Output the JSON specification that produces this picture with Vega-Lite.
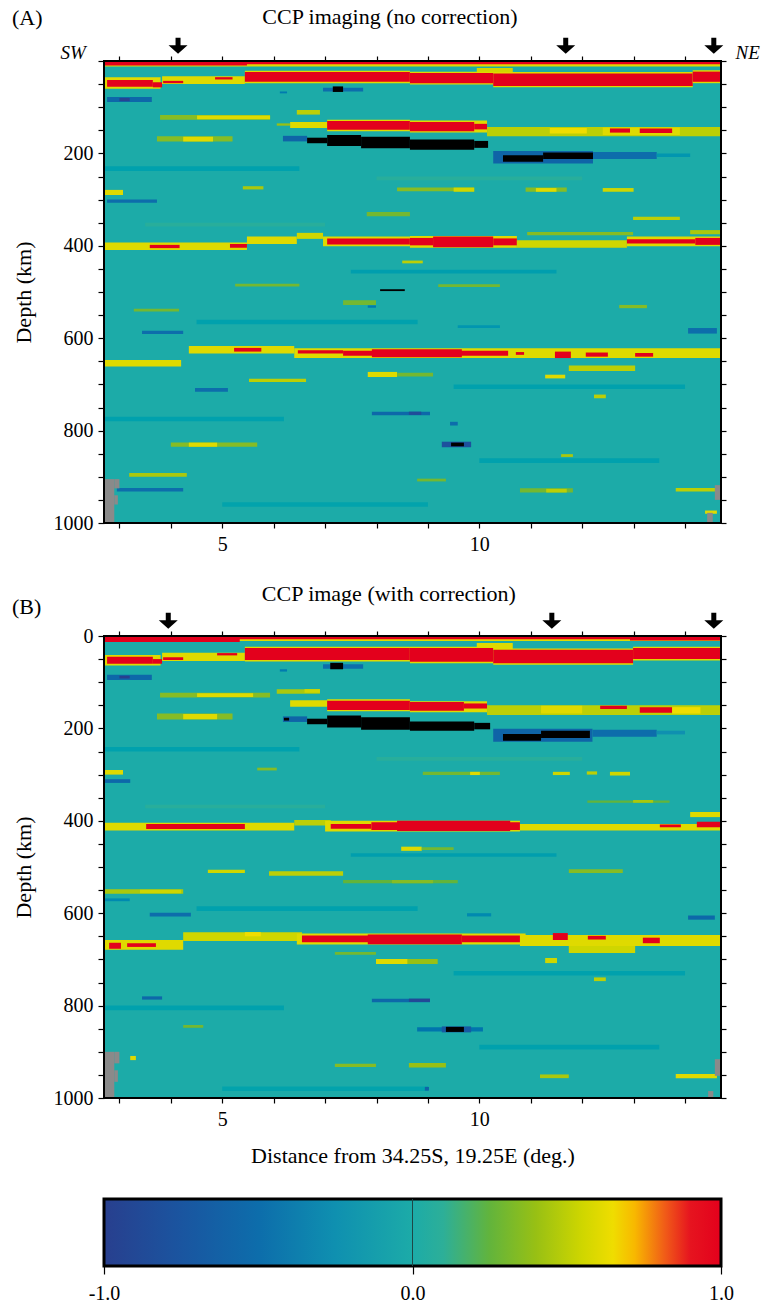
{
"$schema": "https://vega.github.io/schema/vega-lite/v6.json",
"padding": {"left": 11, "top": 6, "right": 2, "bottom": 2},
"background": "white",
"config": {
  "font": "Liberation Serif",
  "view": {"stroke": null},
  "axis": {"labelFont": "Liberation Serif", "titleFont": "Liberation Serif", "labelFontSize": 20, "titleFontSize": 22, "labelColor": "black", "titleColor": "black", "tickColor": "black", "tickWidth": 1.2, "titleFontWeight": "normal", "grid": false, "domain": false, "labelFlush": false, "labelOverlap": false},
  "text": {"font": "Liberation Serif", "color": "black"}
},
"datasets": {
"A": [
{"x":2.7,"x2":14.7,"d":0,"d2":1000,"v":0},
{"x":2.7,"x2":6.5,"d":228,"d2":238,"v":-0.1},
{"x":7.5,"x2":11.5,"d":452,"d2":460,"v":-0.12},
{"x":4.5,"x2":8.8,"d":560,"d2":570,"v":-0.1},
{"x":9.5,"x2":14.0,"d":700,"d2":710,"v":-0.1},
{"x":2.7,"x2":6.2,"d":770,"d2":780,"v":-0.1},
{"x":10.0,"x2":13.5,"d":860,"d2":870,"v":-0.1},
{"x":5.0,"x2":9.0,"d":955,"d2":965,"v":-0.08},
{"x":8.0,"x2":12.0,"d":250,"d2":258,"v":0.08},
{"x":3.5,"x2":7.0,"d":350,"d2":358,"v":0.08},
{"x":2.7,"x2":14.7,"d":0,"d2":12,"v":0.6},
{"x":2.7,"x2":14.7,"d":0,"d2":7,"v":1},
{"x":2.7,"x2":5.48,"d":0,"d2":10,"v":1},
{"x":9.95,"x2":10.65,"d":15,"d2":26,"v":0.55},
{"x":2.7,"x2":3.8,"d":35,"d2":60,"v":0.6},
{"x":2.76,"x2":3.65,"d":41,"d2":56,"v":1},
{"x":3.65,"x2":3.83,"d":46,"d2":57,"v":1},
{"x":3.83,"x2":5.44,"d":33,"d2":50,"v":0.6},
{"x":3.85,"x2":4.24,"d":43,"d2":48,"v":1},
{"x":4.86,"x2":5.2,"d":35,"d2":40,"v":1},
{"x":5.44,"x2":8.65,"d":21,"d2":48,"v":0.6},
{"x":5.44,"x2":8.65,"d":24,"d2":45,"v":1},
{"x":8.65,"x2":10.27,"d":23,"d2":51,"v":0.6},
{"x":8.65,"x2":10.27,"d":26,"d2":48,"v":1},
{"x":10.27,"x2":14.15,"d":24,"d2":57,"v":0.6},
{"x":10.27,"x2":14.15,"d":27,"d2":54,"v":1},
{"x":14.15,"x2":14.7,"d":20,"d2":48,"v":0.6},
{"x":14.15,"x2":14.7,"d":23,"d2":45,"v":1},
{"x":2.76,"x2":3.63,"d":78,"d2":89,"v":-0.55},
{"x":3.0,"x2":3.2,"d":80,"d2":87,"v":-0.95},
{"x":6.96,"x2":7.74,"d":58,"d2":66,"v":-0.5},
{"x":7.15,"x2":7.35,"d":55,"d2":67,"v":-1.3},
{"x":6.12,"x2":6.26,"d":66,"d2":70,"v":-0.4},
{"x":3.79,"x2":5.93,"d":117,"d2":127,"v":0.35},
{"x":4.51,"x2":5.93,"d":118,"d2":126,"v":0.6},
{"x":6.45,"x2":6.9,"d":106,"d2":116,"v":0.5},
{"x":6.06,"x2":6.32,"d":135,"d2":140,"v":0.4},
{"x":6.32,"x2":7.04,"d":132,"d2":145,"v":0.6},
{"x":7.04,"x2":8.65,"d":127,"d2":152,"v":0.6},
{"x":7.04,"x2":8.65,"d":130,"d2":149,"v":1},
{"x":8.65,"x2":10.15,"d":129,"d2":155,"v":0.6},
{"x":8.65,"x2":9.9,"d":132,"d2":152,"v":1},
{"x":9.9,"x2":10.15,"d":136,"d2":148,"v":1},
{"x":10.15,"x2":14.7,"d":143,"d2":163,"v":0.5},
{"x":11.37,"x2":12.09,"d":145,"d2":157,"v":0.65},
{"x":12.4,"x2":13.9,"d":144,"d2":160,"v":0.6},
{"x":12.54,"x2":12.93,"d":146,"d2":155,"v":1},
{"x":13.12,"x2":13.75,"d":146,"d2":156,"v":1},
{"x":3.73,"x2":5.2,"d":163,"d2":174,"v":0.35},
{"x":4.24,"x2":4.82,"d":164,"d2":174,"v":0.6},
{"x":6.18,"x2":6.65,"d":162,"d2":174,"v":-0.6},
{"x":6.65,"x2":7.04,"d":166,"d2":178,"v":-1.3},
{"x":7.04,"x2":7.7,"d":160,"d2":184,"v":-1.3},
{"x":7.7,"x2":8.65,"d":164,"d2":189,"v":-1.3},
{"x":8.65,"x2":9.9,"d":170,"d2":192,"v":-1.3},
{"x":9.9,"x2":10.17,"d":173,"d2":188,"v":-1.3},
{"x":10.27,"x2":12.21,"d":195,"d2":222,"v":-0.6},
{"x":12.21,"x2":13.45,"d":197,"d2":212,"v":-0.5},
{"x":13.45,"x2":14.1,"d":200,"d2":208,"v":-0.2},
{"x":10.46,"x2":11.24,"d":204,"d2":218,"v":-1.3},
{"x":11.24,"x2":12.21,"d":198,"d2":212,"v":-1.3},
{"x":2.7,"x2":3.07,"d":279,"d2":290,"v":0.6},
{"x":2.76,"x2":3.73,"d":300,"d2":307,"v":-0.5},
{"x":5.4,"x2":5.8,"d":271,"d2":278,"v":0.45},
{"x":8.4,"x2":9.9,"d":274,"d2":282,"v":0.35},
{"x":9.5,"x2":9.9,"d":274,"d2":283,"v":0.55},
{"x":10.9,"x2":11.7,"d":274,"d2":283,"v":0.35},
{"x":11.1,"x2":11.5,"d":275,"d2":283,"v":0.6},
{"x":12.4,"x2":13.0,"d":275,"d2":283,"v":0.55},
{"x":12.99,"x2":13.9,"d":337,"d2":344,"v":0.5},
{"x":7.81,"x2":8.65,"d":327,"d2":336,"v":0.3},
{"x":2.7,"x2":5.48,"d":393,"d2":409,"v":0.6},
{"x":3.59,"x2":4.17,"d":398,"d2":405,"v":1},
{"x":5.15,"x2":5.48,"d":396,"d2":404,"v":1},
{"x":5.48,"x2":6.45,"d":380,"d2":396,"v":0.6},
{"x":6.45,"x2":6.96,"d":372,"d2":385,"v":0.55},
{"x":6.96,"x2":8.65,"d":380,"d2":401,"v":0.6},
{"x":7.04,"x2":8.65,"d":384,"d2":397,"v":1},
{"x":8.65,"x2":10.73,"d":379,"d2":404,"v":0.6},
{"x":8.65,"x2":9.1,"d":383,"d2":399,"v":1},
{"x":9.1,"x2":10.27,"d":380,"d2":403,"v":1},
{"x":10.27,"x2":10.73,"d":384,"d2":399,"v":1},
{"x":10.73,"x2":12.87,"d":388,"d2":404,"v":0.55},
{"x":12.87,"x2":14.7,"d":380,"d2":401,"v":0.6},
{"x":12.87,"x2":14.2,"d":386,"d2":395,"v":1},
{"x":14.2,"x2":14.7,"d":383,"d2":398,"v":1},
{"x":10.93,"x2":12.99,"d":370,"d2":377,"v":0.35},
{"x":14.1,"x2":14.7,"d":366,"d2":375,"v":0.45},
{"x":8.5,"x2":8.9,"d":432,"d2":438,"v":0.5},
{"x":8.07,"x2":8.55,"d":494,"d2":498,"v":-1.3},
{"x":5.25,"x2":6.5,"d":482,"d2":488,"v":0.3},
{"x":9.2,"x2":10.4,"d":483,"d2":489,"v":0.3},
{"x":7.35,"x2":7.99,"d":518,"d2":528,"v":0.3},
{"x":3.28,"x2":4.16,"d":536,"d2":542,"v":0.3},
{"x":12.72,"x2":13.26,"d":528,"d2":535,"v":0.35},
{"x":3.44,"x2":4.24,"d":584,"d2":591,"v":-0.5},
{"x":14.06,"x2":14.62,"d":578,"d2":590,"v":-0.5},
{"x":7.83,"x2":7.99,"d":529,"d2":534,"v":-0.4},
{"x":9.58,"x2":10.4,"d":572,"d2":578,"v":-0.2},
{"x":2.7,"x2":4.2,"d":647,"d2":661,"v":0.6},
{"x":4.35,"x2":6.4,"d":617,"d2":633,"v":0.6},
{"x":6.4,"x2":14.7,"d":622,"d2":643,"v":0.6},
{"x":5.23,"x2":5.76,"d":621,"d2":629,"v":1},
{"x":6.47,"x2":7.35,"d":626,"d2":633,"v":1},
{"x":7.35,"x2":10.56,"d":627,"d2":638,"v":1},
{"x":7.91,"x2":9.66,"d":624,"d2":641,"v":1},
{"x":10.71,"x2":10.87,"d":630,"d2":636,"v":1},
{"x":11.47,"x2":11.78,"d":629,"d2":643,"v":1},
{"x":12.07,"x2":12.5,"d":631,"d2":640,"v":1},
{"x":13.03,"x2":13.38,"d":632,"d2":640,"v":1},
{"x":7.83,"x2":8.4,"d":673,"d2":684,"v":0.6},
{"x":8.4,"x2":9.1,"d":675,"d2":683,"v":0.3},
{"x":5.52,"x2":6.63,"d":688,"d2":695,"v":0.5},
{"x":11.28,"x2":11.67,"d":679,"d2":687,"v":0.6},
{"x":11.74,"x2":13.03,"d":659,"d2":671,"v":0.5},
{"x":12.23,"x2":12.46,"d":722,"d2":730,"v":0.5},
{"x":4.47,"x2":5.11,"d":708,"d2":716,"v":-0.5},
{"x":7.91,"x2":9.04,"d":759,"d2":767,"v":-0.55},
{"x":8.63,"x2":8.87,"d":759,"d2":766,"v":-0.85},
{"x":9.43,"x2":9.58,"d":781,"d2":789,"v":-0.5},
{"x":9.27,"x2":9.84,"d":824,"d2":836,"v":-0.8},
{"x":9.45,"x2":9.7,"d":826,"d2":834,"v":-1.3},
{"x":4.0,"x2":5.68,"d":826,"d2":835,"v":0.35},
{"x":4.35,"x2":4.9,"d":826,"d2":835,"v":0.6},
{"x":3.19,"x2":4.31,"d":892,"d2":900,"v":0.45},
{"x":2.95,"x2":4.24,"d":924,"d2":932,"v":-0.5},
{"x":13.82,"x2":14.62,"d":924,"d2":932,"v":0.5},
{"x":10.79,"x2":11.82,"d":925,"d2":934,"v":0.3},
{"x":11.3,"x2":11.7,"d":926,"d2":934,"v":0.5},
{"x":8.79,"x2":9.35,"d":904,"d2":910,"v":0.3},
{"x":14.39,"x2":14.62,"d":973,"d2":980,"v":0.6},
{"x":11.59,"x2":11.82,"d":851,"d2":857,"v":0.45}
],
"B": [
{"x":2.7,"x2":14.7,"d":0,"d2":1000,"v":0},
{"x":2.7,"x2":6.5,"d":240,"d2":250,"v":-0.1},
{"x":7.5,"x2":11.5,"d":470,"d2":478,"v":-0.12},
{"x":4.5,"x2":8.8,"d":585,"d2":595,"v":-0.1},
{"x":9.5,"x2":14.0,"d":725,"d2":735,"v":-0.1},
{"x":2.7,"x2":6.2,"d":800,"d2":810,"v":-0.1},
{"x":10.0,"x2":13.5,"d":885,"d2":895,"v":-0.1},
{"x":5.0,"x2":9.0,"d":975,"d2":985,"v":-0.08},
{"x":8.0,"x2":12.0,"d":262,"d2":270,"v":0.08},
{"x":3.5,"x2":7.0,"d":365,"d2":373,"v":0.08},
{"x":2.7,"x2":14.7,"d":0,"d2":11,"v":0.6},
{"x":2.7,"x2":14.7,"d":0,"d2":7,"v":1},
{"x":2.7,"x2":5.34,"d":0,"d2":13,"v":1},
{"x":12.93,"x2":14.7,"d":0,"d2":10,"v":1},
{"x":9.95,"x2":10.65,"d":15,"d2":30,"v":0.6},
{"x":2.7,"x2":3.8,"d":41,"d2":64,"v":0.6},
{"x":2.76,"x2":3.65,"d":45,"d2":60,"v":1},
{"x":3.65,"x2":3.83,"d":50,"d2":60,"v":1},
{"x":3.83,"x2":5.44,"d":36,"d2":54,"v":0.6},
{"x":3.85,"x2":4.24,"d":46,"d2":52,"v":1},
{"x":4.9,"x2":5.29,"d":37,"d2":42,"v":1},
{"x":5.44,"x2":8.65,"d":23,"d2":55,"v":0.6},
{"x":5.44,"x2":8.65,"d":26,"d2":52,"v":1},
{"x":8.65,"x2":10.27,"d":23,"d2":59,"v":0.6},
{"x":8.65,"x2":10.27,"d":26,"d2":56,"v":1},
{"x":10.27,"x2":12.99,"d":27,"d2":62,"v":0.6},
{"x":10.27,"x2":12.99,"d":30,"d2":59,"v":1},
{"x":12.99,"x2":14.7,"d":23,"d2":53,"v":0.6},
{"x":12.99,"x2":14.7,"d":26,"d2":50,"v":1},
{"x":2.76,"x2":3.63,"d":84,"d2":95,"v":-0.55},
{"x":3.0,"x2":3.2,"d":86,"d2":92,"v":-1.0},
{"x":6.96,"x2":7.74,"d":61,"d2":71,"v":-0.5},
{"x":7.1,"x2":7.35,"d":58,"d2":72,"v":-1.3},
{"x":6.12,"x2":6.26,"d":72,"d2":77,"v":-0.4},
{"x":3.79,"x2":5.93,"d":123,"d2":133,"v":0.35},
{"x":4.51,"x2":5.6,"d":124,"d2":132,"v":0.6},
{"x":6.06,"x2":6.9,"d":115,"d2":125,"v":0.45},
{"x":6.6,"x2":6.9,"d":115,"d2":123,"v":0.55},
{"x":6.32,"x2":7.04,"d":139,"d2":153,"v":0.6},
{"x":7.04,"x2":8.65,"d":137,"d2":163,"v":0.6},
{"x":7.04,"x2":8.65,"d":140,"d2":160,"v":1},
{"x":8.65,"x2":10.15,"d":141,"d2":165,"v":0.6},
{"x":8.65,"x2":9.7,"d":143,"d2":162,"v":1},
{"x":9.7,"x2":10.15,"d":146,"d2":157,"v":1},
{"x":10.15,"x2":14.7,"d":150,"d2":171,"v":0.5},
{"x":11.2,"x2":12.0,"d":151,"d2":168,"v":0.6},
{"x":12.35,"x2":12.87,"d":151,"d2":158,"v":1},
{"x":13.12,"x2":13.75,"d":154,"d2":166,"v":1},
{"x":13.75,"x2":14.3,"d":154,"d2":168,"v":0.65},
{"x":3.73,"x2":5.2,"d":168,"d2":181,"v":0.35},
{"x":4.24,"x2":4.9,"d":169,"d2":180,"v":0.6},
{"x":6.18,"x2":6.65,"d":174,"d2":186,"v":-0.6},
{"x":6.2,"x2":6.3,"d":177,"d2":183,"v":-1.1},
{"x":6.65,"x2":7.04,"d":179,"d2":191,"v":-1.3},
{"x":7.04,"x2":7.7,"d":172,"d2":198,"v":-1.3},
{"x":7.7,"x2":8.65,"d":176,"d2":203,"v":-1.3},
{"x":8.65,"x2":9.9,"d":185,"d2":205,"v":-1.3},
{"x":9.9,"x2":10.21,"d":188,"d2":202,"v":-1.3},
{"x":10.27,"x2":12.2,"d":201,"d2":229,"v":-0.6},
{"x":12.2,"x2":13.45,"d":203,"d2":218,"v":-0.5},
{"x":13.45,"x2":14.0,"d":205,"d2":213,"v":-0.25},
{"x":10.46,"x2":11.2,"d":212,"d2":227,"v":-1.3},
{"x":11.2,"x2":12.15,"d":205,"d2":221,"v":-1.3},
{"x":8.9,"x2":10.4,"d":294,"d2":301,"v":0.3},
{"x":9.82,"x2":10.01,"d":294,"d2":301,"v":0.6},
{"x":11.43,"x2":11.76,"d":294,"d2":301,"v":0.55},
{"x":12.09,"x2":12.29,"d":293,"d2":300,"v":0.5},
{"x":12.54,"x2":12.93,"d":294,"d2":302,"v":0.55},
{"x":12.1,"x2":13.7,"d":356,"d2":361,"v":0.25},
{"x":12.99,"x2":13.38,"d":355,"d2":361,"v":0.45},
{"x":14.1,"x2":14.7,"d":381,"d2":392,"v":0.6},
{"x":2.7,"x2":3.07,"d":290,"d2":300,"v":0.6},
{"x":2.7,"x2":3.21,"d":310,"d2":318,"v":-0.55},
{"x":5.68,"x2":6.06,"d":285,"d2":291,"v":0.35},
{"x":2.7,"x2":6.4,"d":404,"d2":421,"v":0.6},
{"x":3.52,"x2":5.44,"d":407,"d2":418,"v":1},
{"x":6.4,"x2":7.11,"d":398,"d2":410,"v":0.5},
{"x":7.0,"x2":10.79,"d":400,"d2":423,"v":0.6},
{"x":7.11,"x2":7.9,"d":407,"d2":417,"v":1},
{"x":7.9,"x2":10.79,"d":403,"d2":420,"v":1},
{"x":8.4,"x2":10.6,"d":400,"d2":422,"v":1},
{"x":10.79,"x2":14.7,"d":407,"d2":421,"v":0.6},
{"x":13.51,"x2":13.92,"d":408,"d2":414,"v":1},
{"x":14.23,"x2":14.7,"d":402,"d2":414,"v":1},
{"x":8.48,"x2":8.88,"d":456,"d2":465,"v":0.6},
{"x":8.88,"x2":9.5,"d":457,"d2":463,"v":0.3},
{"x":4.72,"x2":5.44,"d":506,"d2":513,"v":0.55},
{"x":5.91,"x2":7.35,"d":509,"d2":519,"v":0.5},
{"x":7.35,"x2":9.58,"d":528,"d2":535,"v":0.25},
{"x":8.3,"x2":9.1,"d":528,"d2":535,"v":0.35},
{"x":11.74,"x2":12.79,"d":505,"d2":513,"v":0.35},
{"x":2.7,"x2":4.24,"d":548,"d2":558,"v":0.45},
{"x":3.4,"x2":4.2,"d":549,"d2":557,"v":0.55},
{"x":3.59,"x2":4.39,"d":599,"d2":607,"v":-0.5},
{"x":14.06,"x2":14.58,"d":605,"d2":614,"v":-0.55},
{"x":9.76,"x2":10.23,"d":600,"d2":607,"v":-0.3},
{"x":2.7,"x2":3.2,"d":568,"d2":574,"v":-0.3},
{"x":2.7,"x2":4.24,"d":658,"d2":679,"v":0.6},
{"x":2.8,"x2":3.03,"d":664,"d2":677,"v":1},
{"x":3.15,"x2":3.71,"d":665,"d2":673,"v":1},
{"x":4.24,"x2":6.55,"d":641,"d2":660,"v":0.55},
{"x":5.44,"x2":5.75,"d":641,"d2":650,"v":0.65},
{"x":6.45,"x2":10.9,"d":644,"d2":668,"v":0.6},
{"x":6.55,"x2":7.9,"d":648,"d2":663,"v":1},
{"x":7.83,"x2":9.66,"d":646,"d2":667,"v":1},
{"x":9.66,"x2":10.79,"d":648,"d2":663,"v":1},
{"x":10.79,"x2":14.7,"d":647,"d2":671,"v":0.6},
{"x":11.43,"x2":11.72,"d":643,"d2":658,"v":1},
{"x":12.11,"x2":12.46,"d":649,"d2":657,"v":1},
{"x":13.18,"x2":13.51,"d":653,"d2":665,"v":1},
{"x":11.74,"x2":13.03,"d":671,"d2":686,"v":0.55},
{"x":11.28,"x2":11.51,"d":697,"d2":708,"v":0.55},
{"x":7.99,"x2":9.19,"d":699,"d2":710,"v":0.4},
{"x":7.99,"x2":8.6,"d":699,"d2":710,"v":0.6},
{"x":7.19,"x2":7.99,"d":684,"d2":690,"v":0.3},
{"x":12.23,"x2":12.46,"d":739,"d2":747,"v":0.5},
{"x":3.44,"x2":3.83,"d":780,"d2":787,"v":-0.55},
{"x":7.91,"x2":9.04,"d":785,"d2":793,"v":-0.55},
{"x":8.63,"x2":9.04,"d":785,"d2":792,"v":-0.9},
{"x":8.79,"x2":10.07,"d":847,"d2":856,"v":-0.45},
{"x":9.27,"x2":9.84,"d":845,"d2":858,"v":-0.7},
{"x":9.35,"x2":9.7,"d":846,"d2":857,"v":-1.3},
{"x":7.19,"x2":7.99,"d":926,"d2":933,"v":0.35},
{"x":8.63,"x2":9.35,"d":924,"d2":934,"v":0.4},
{"x":13.82,"x2":14.62,"d":948,"d2":957,"v":0.6},
{"x":11.18,"x2":11.74,"d":949,"d2":957,"v":0.45},
{"x":3.21,"x2":3.32,"d":909,"d2":918,"v":0.6},
{"x":8.94,"x2":9.02,"d":976,"d2":984,"v":-0.6},
{"x":4.24,"x2":4.63,"d":842,"d2":848,"v":0.3}
],
"G": [
{"p":"A","x":2.7,"x2":2.9,"d":905,"d2":1000},
{"p":"A","x":2.9,"x2":3.0,"d":905,"d2":925},
{"p":"A","x":2.9,"x2":2.97,"d":940,"d2":960},
{"p":"A","x":14.58,"x2":14.7,"d":918,"d2":950},
{"p":"A","x":14.43,"x2":14.54,"d":978,"d2":1000},
{"p":"B","x":2.7,"x2":2.9,"d":900,"d2":1000},
{"p":"B","x":2.9,"x2":3.0,"d":900,"d2":925},
{"p":"B","x":2.9,"x2":2.97,"d":940,"d2":965},
{"p":"B","x":14.58,"x2":14.7,"d":916,"d2":952},
{"p":"B","x":14.45,"x2":14.55,"d":985,"d2":1000}
]
},
"vconcat": [
{
"spacing": 113,
"bounds": "flush",
"vconcat": [
{
"width": 617, "height": 462,
"resolve": {"axis": {"x": "independent", "y": "independent"}},
"layer": [
{
"data": {"name": "A"},
"mark": {"type": "rect"},
"encoding": {
"x": {"field": "x", "type": "quantitative", "scale": {"domain": [2.7, 14.7], "nice": false, "zero": false}, "axis": {"orient": "bottom", "values": [3,4,5,6,7,8,9,10,11,12,13,14], "labelExpr": "datum.value === 5 || datum.value === 10 ? datum.label : ''", "title": null, "tickSize": 5, "labelPadding": 6}},
"x2": {"field": "x2"},
"y": {"field": "d", "type": "quantitative", "scale": {"domain": [0, 1000], "nice": false, "zero": false, "reverse": true}, "axis": {"orient": "left", "values": [0,50,100,150,200,250,300,350,400,450,500,550,600,650,700,750,800,850,900,950,1000], "format": "d", "labelExpr": "datum.value % 200 === 0 && datum.value > 0 ? datum.label : ''", "tickSize": 6, "labelPadding": 5, "title": "Depth (km)", "titlePadding": 18}},
"y2": {"field": "d2"},
"color": {"field": "v", "type": "quantitative", "legend": null, "scale": {"type": "linear", "domain": [-1.3, -1.02, -1, -0.75, -0.5, -0.25, 0, 0.1, 0.25, 0.4, 0.55, 0.65, 0.72, 0.82, 0.9, 1], "range": ["#000000", "#000000", "#283f8e", "#1a55a0", "#0d6dab", "#0f90b0", "#1caba8", "#2daf98", "#62b43c", "#98c014", "#cfd600", "#efdd00", "#f8b800", "#f05a18", "#e6141f", "#e3001c"], "clamp": true}}
}
},
{
"data": {"name": "G"},
"transform": [{"filter": "datum.p === 'A'"}],
"mark": {"type": "rect", "color": "#8a8a8a"},
"encoding": {
"x": {"field": "x", "type": "quantitative", "scale": {"domain": [2.7, 14.7], "nice": false, "zero": false}, "axis": null},
"x2": {"field": "x2"},
"y": {"field": "d", "type": "quantitative", "scale": {"domain": [0, 1000], "nice": false, "zero": false, "reverse": true}, "axis": null},
"y2": {"field": "d2"}
}
},
{
"data": {"values": [{"x": 2.7, "x2": 14.7, "d": 0, "d2": 1000}]},
"mark": {"type": "rect", "filled": false, "color": "black", "strokeWidth": 2},
"encoding": {
"x": {"field": "x", "type": "quantitative", "scale": {"domain": [2.7, 14.7], "nice": false, "zero": false}, "axis": {"orient": "top", "values": [3,4,5,6,7,8,9,10,11,12,13,14], "labels": false, "title": null, "tickSize": 5}},
"x2": {"field": "x2"},
"y": {"field": "d", "type": "quantitative", "scale": {"domain": [0, 1000], "nice": false, "zero": false, "reverse": true}, "axis": {"orient": "right", "values": [0,50,100,150,200,250,300,350,400,450,500,550,600,650,700,750,800,850,900,950,1000], "labels": false, "title": null, "tickSize": 5}},
"y2": {"field": "d2"}
}
},
{
"data": {"values": [{"x": 4.14, "d": -33}, {"x": 11.68, "d": -33}, {"x": 14.56, "d": -33}]},
"mark": {"type": "point", "shape": "M-0.25,-0.8L0.25,-0.8L0.25,-0.05L0.95,-0.05L0,0.8L-0.95,-0.05L-0.25,-0.05Z", "filled": true, "color": "black", "opacity": 1, "size": 400},
"encoding": {
"x": {"field": "x", "type": "quantitative", "scale": {"domain": [2.7, 14.7], "nice": false, "zero": false}, "axis": null},
"y": {"field": "d", "type": "quantitative", "scale": {"domain": [0, 1000], "nice": false, "zero": false, "reverse": true}, "axis": null}
}
},
{
"data": {"values": [{"x": 8.26, "d": -95, "t": "CCP imaging (no correction)"}]},
"mark": {"type": "text", "fontSize": 22, "align": "center", "baseline": "middle"},
"encoding": {
"x": {"field": "x", "type": "quantitative", "scale": {"domain": [2.7, 14.7], "nice": false, "zero": false}, "axis": null},
"y": {"field": "d", "type": "quantitative", "scale": {"domain": [0, 1000], "nice": false, "zero": false, "reverse": true}, "axis": null},
"text": {"field": "t"}
}
},
{
"data": {"values": [{"x": 0.91, "d": -93, "t": "(A)"}]},
"mark": {"type": "text", "fontSize": 22, "align": "left", "baseline": "middle"},
"encoding": {
"x": {"field": "x", "type": "quantitative", "scale": {"domain": [2.7, 14.7], "nice": false, "zero": false}, "axis": null},
"y": {"field": "d", "type": "quantitative", "scale": {"domain": [0, 1000], "nice": false, "zero": false, "reverse": true}, "axis": null},
"text": {"field": "t"}
}
},
{
"data": {"values": [{"x": 2.1, "d": -17, "t": "SW"}, {"x": 15.22, "d": -17, "t": "NE"}]},
"mark": {"type": "text", "fontSize": 19, "fontStyle": "italic", "align": "center", "baseline": "middle"},
"encoding": {
"x": {"field": "x", "type": "quantitative", "scale": {"domain": [2.7, 14.7], "nice": false, "zero": false}, "axis": null},
"y": {"field": "d", "type": "quantitative", "scale": {"domain": [0, 1000], "nice": false, "zero": false, "reverse": true}, "axis": null},
"text": {"field": "t"}
}
}
]
},
{
"width": 617, "height": 462,
"resolve": {"axis": {"x": "independent", "y": "independent"}},
"layer": [
{
"data": {"name": "B"},
"mark": {"type": "rect"},
"encoding": {
"x": {"field": "x", "type": "quantitative", "scale": {"domain": [2.7, 14.7], "nice": false, "zero": false}, "axis": {"orient": "bottom", "values": [3,4,5,6,7,8,9,10,11,12,13,14], "labelExpr": "datum.value === 5 || datum.value === 10 ? datum.label : ''", "title": "Distance from 34.25S, 19.25E (deg.)", "titlePadding": 16, "tickSize": 5, "labelPadding": 6}},
"x2": {"field": "x2"},
"y": {"field": "d", "type": "quantitative", "scale": {"domain": [0, 1000], "nice": false, "zero": false, "reverse": true}, "axis": {"orient": "left", "values": [0,50,100,150,200,250,300,350,400,450,500,550,600,650,700,750,800,850,900,950,1000], "format": "d", "labelExpr": "datum.value % 200 === 0 ? datum.label : ''", "tickSize": 6, "labelPadding": 5, "title": "Depth (km)", "titlePadding": 18}},
"y2": {"field": "d2"},
"color": {"field": "v", "type": "quantitative", "legend": null, "scale": {"type": "linear", "domain": [-1.3, -1.02, -1, -0.75, -0.5, -0.25, 0, 0.1, 0.25, 0.4, 0.55, 0.65, 0.72, 0.82, 0.9, 1], "range": ["#000000", "#000000", "#283f8e", "#1a55a0", "#0d6dab", "#0f90b0", "#1caba8", "#2daf98", "#62b43c", "#98c014", "#cfd600", "#efdd00", "#f8b800", "#f05a18", "#e6141f", "#e3001c"], "clamp": true}}
}
},
{
"data": {"name": "G"},
"transform": [{"filter": "datum.p === 'B'"}],
"mark": {"type": "rect", "color": "#8a8a8a"},
"encoding": {
"x": {"field": "x", "type": "quantitative", "scale": {"domain": [2.7, 14.7], "nice": false, "zero": false}, "axis": null},
"x2": {"field": "x2"},
"y": {"field": "d", "type": "quantitative", "scale": {"domain": [0, 1000], "nice": false, "zero": false, "reverse": true}, "axis": null},
"y2": {"field": "d2"}
}
},
{
"data": {"values": [{"x": 2.7, "x2": 14.7, "d": 0, "d2": 1000}]},
"mark": {"type": "rect", "filled": false, "color": "black", "strokeWidth": 2},
"encoding": {
"x": {"field": "x", "type": "quantitative", "scale": {"domain": [2.7, 14.7], "nice": false, "zero": false}, "axis": {"orient": "top", "values": [3,4,5,6,7,8,9,10,11,12,13,14], "labels": false, "title": null, "tickSize": 5}},
"x2": {"field": "x2"},
"y": {"field": "d", "type": "quantitative", "scale": {"domain": [0, 1000], "nice": false, "zero": false, "reverse": true}, "axis": {"orient": "right", "values": [0,50,100,150,200,250,300,350,400,450,500,550,600,650,700,750,800,850,900,950,1000], "labels": false, "title": null, "tickSize": 5}},
"y2": {"field": "d2"}
}
},
{
"data": {"values": [{"x": 3.95, "d": -33}, {"x": 11.41, "d": -33}, {"x": 14.56, "d": -33}]},
"mark": {"type": "point", "shape": "M-0.25,-0.8L0.25,-0.8L0.25,-0.05L0.95,-0.05L0,0.8L-0.95,-0.05L-0.25,-0.05Z", "filled": true, "color": "black", "opacity": 1, "size": 400},
"encoding": {
"x": {"field": "x", "type": "quantitative", "scale": {"domain": [2.7, 14.7], "nice": false, "zero": false}, "axis": null},
"y": {"field": "d", "type": "quantitative", "scale": {"domain": [0, 1000], "nice": false, "zero": false, "reverse": true}, "axis": null}
}
},
{
"data": {"values": [{"x": 8.24, "d": -91, "t": "CCP image (with correction)"}]},
"mark": {"type": "text", "fontSize": 22, "align": "center", "baseline": "middle"},
"encoding": {
"x": {"field": "x", "type": "quantitative", "scale": {"domain": [2.7, 14.7], "nice": false, "zero": false}, "axis": null},
"y": {"field": "d", "type": "quantitative", "scale": {"domain": [0, 1000], "nice": false, "zero": false, "reverse": true}, "axis": null},
"text": {"field": "t"}
}
},
{
"data": {"values": [{"x": 0.91, "d": -63, "t": "(B)"}]},
"mark": {"type": "text", "fontSize": 22, "align": "left", "baseline": "middle"},
"encoding": {
"x": {"field": "x", "type": "quantitative", "scale": {"domain": [2.7, 14.7], "nice": false, "zero": false}, "axis": null},
"y": {"field": "d", "type": "quantitative", "scale": {"domain": [0, 1000], "nice": false, "zero": false, "reverse": true}, "axis": null},
"text": {"field": "t"}
}
}
]
}
]
},
{
"width": 617, "height": 67,
"layer": [
{
"data": {"values": [{"lo": -1, "hi": 1}]},
"mark": {"type": "rect", "fill": {"gradient": "linear", "x1": 0, "y1": 0, "x2": 1, "y2": 0, "stops": [
{"offset": 0, "color": "#283f8e"}, {"offset": 0.125, "color": "#1a55a0"}, {"offset": 0.25, "color": "#0d6dab"}, {"offset": 0.375, "color": "#0f90b0"}, {"offset": 0.5, "color": "#1caba8"}, {"offset": 0.55, "color": "#2daf98"}, {"offset": 0.625, "color": "#62b43c"}, {"offset": 0.7, "color": "#98c014"}, {"offset": 0.775, "color": "#cfd600"}, {"offset": 0.825, "color": "#efdd00"}, {"offset": 0.86, "color": "#f8b800"}, {"offset": 0.91, "color": "#f05a18"}, {"offset": 0.95, "color": "#e6141f"}, {"offset": 1, "color": "#e3001c"}]}, "stroke": "black", "strokeWidth": 3},
"encoding": {
"x": {"field": "lo", "type": "quantitative", "scale": {"domain": [-1, 1], "nice": false, "zero": false}, "axis": {"orient": "bottom", "values": [-1, 0, 1], "labelExpr": "datum.value < 0 ? '-1.0' : (datum.value > 0 ? '1.0' : '0.0')", "tickSize": 8, "labelPadding": 9, "title": null}},
"x2": {"field": "hi"}
}
},
{
"data": {"values": [{"z": 0}]},
"mark": {"type": "rule", "color": "#1f4746", "strokeWidth": 1},
"encoding": {
"x": {"field": "z", "type": "quantitative", "scale": {"domain": [-1, 1], "nice": false, "zero": false}}
}
}
]
}
],
"spacing": 31
}
